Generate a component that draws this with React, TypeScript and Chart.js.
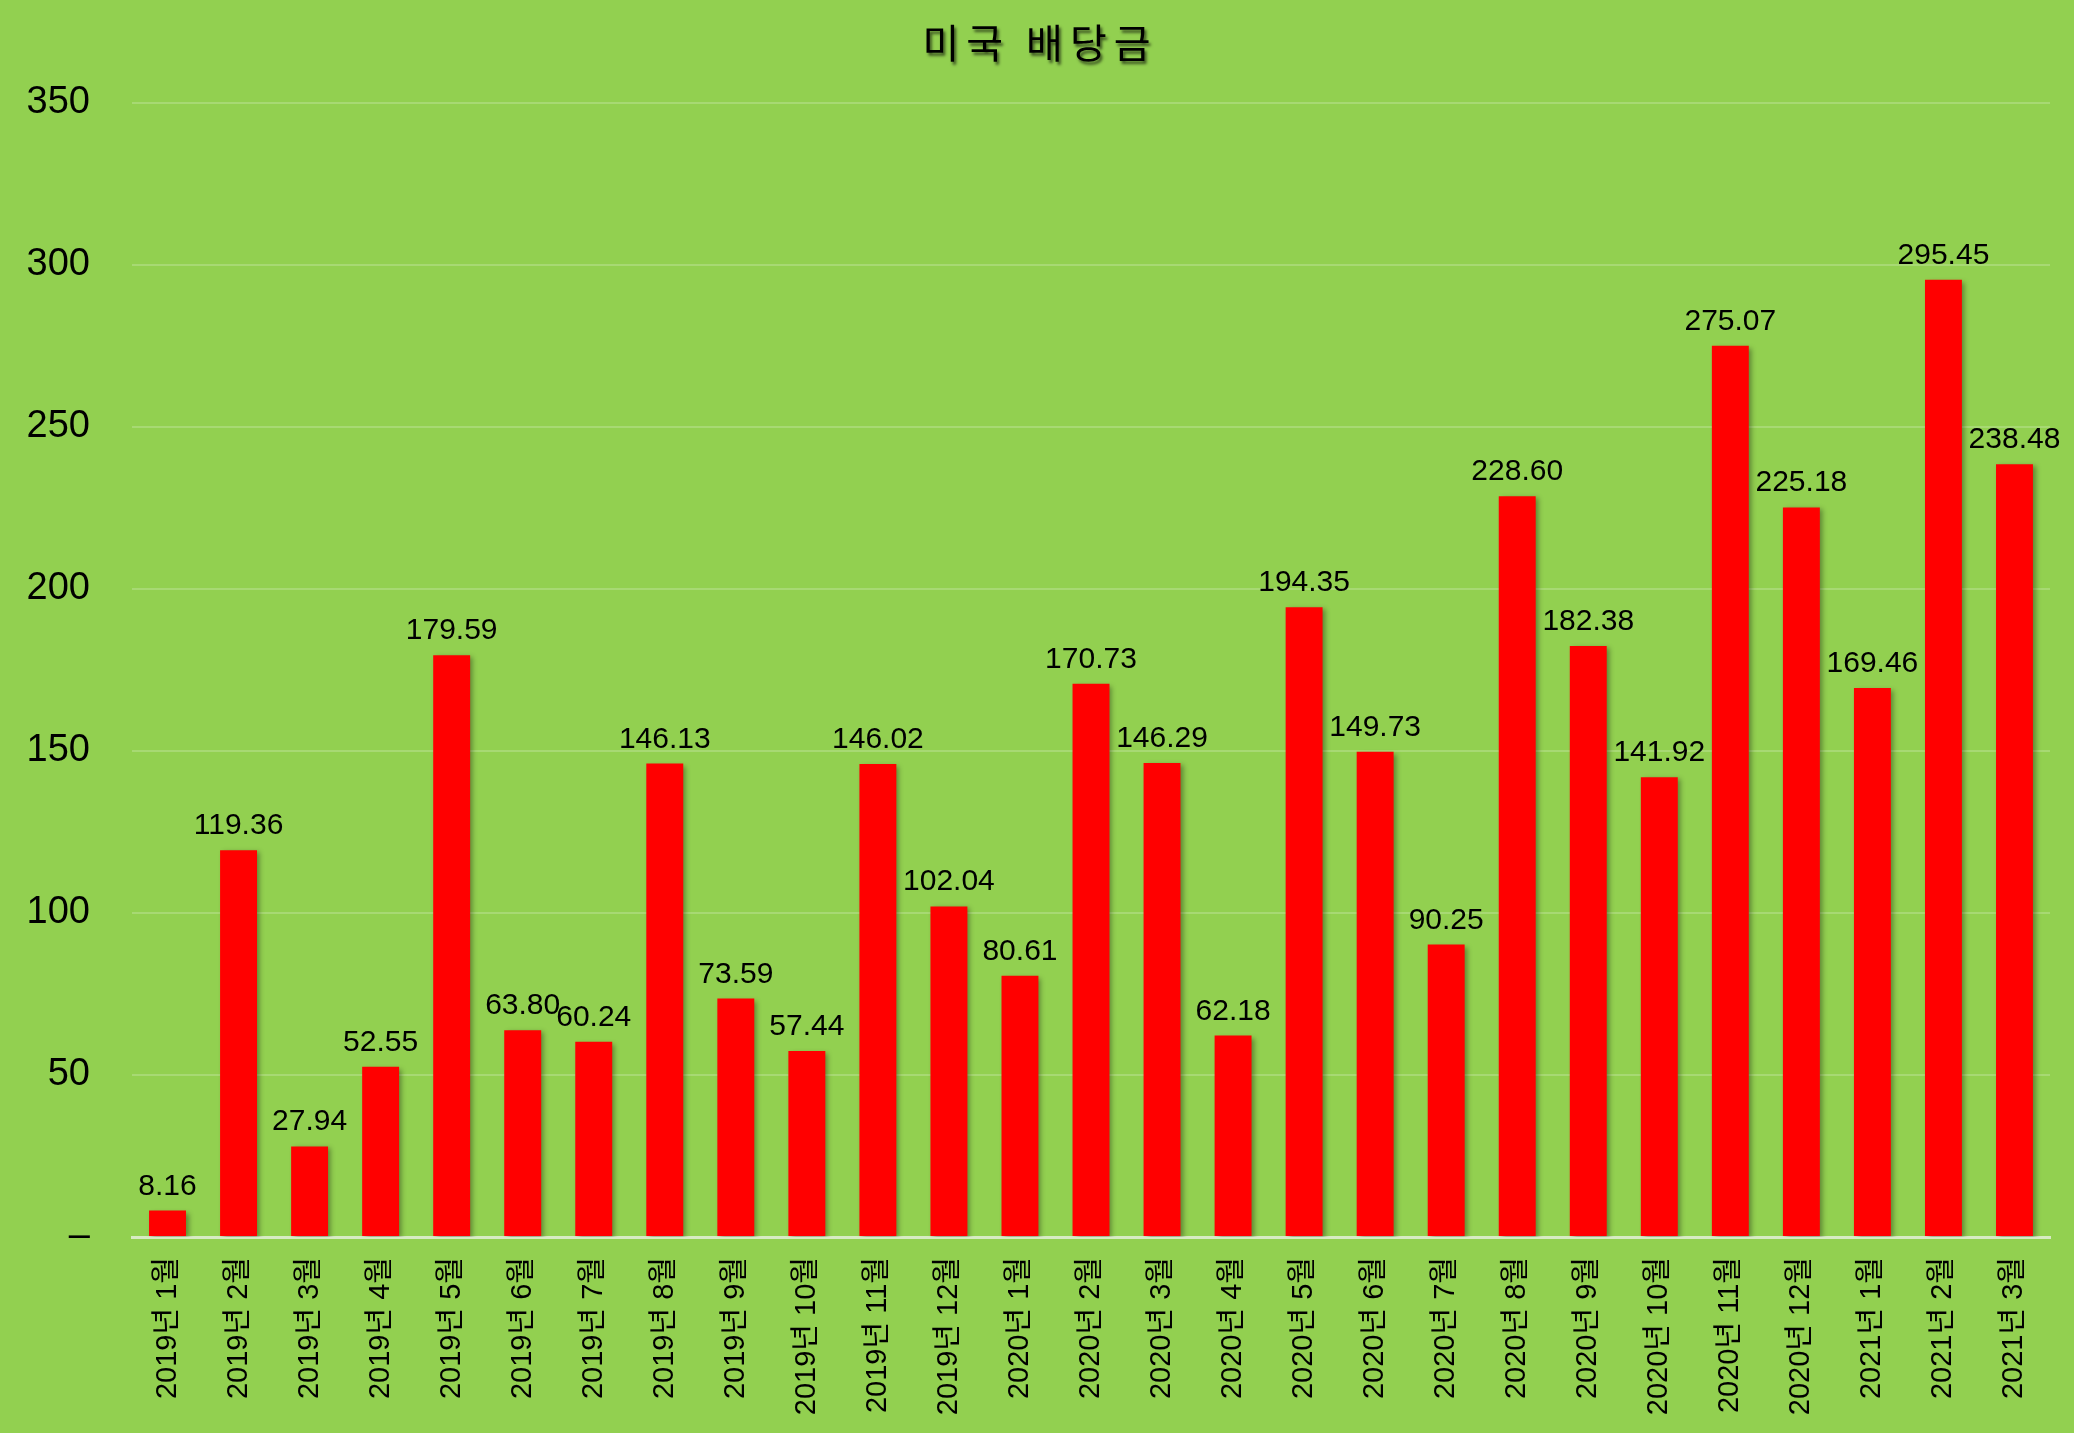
import React, { useEffect, useRef } from 'react';
import { Chart, registerables } from 'chart.js';

Chart.register(...registerables);

const TITLE = '미국 배당금';

const MONTHS = [
  '2019년 1월', '2019년 2월', '2019년 3월', '2019년 4월', '2019년 5월', '2019년 6월',
  '2019년 7월', '2019년 8월', '2019년 9월', '2019년 10월', '2019년 11월', '2019년 12월',
  '2020년 1월', '2020년 2월', '2020년 3월', '2020년 4월', '2020년 5월', '2020년 6월',
  '2020년 7월', '2020년 8월', '2020년 9월', '2020년 10월', '2020년 11월', '2020년 12월',
  '2021년 1월', '2021년 2월', '2021년 3월',
];

const DIVIDENDS = [
  8.16, 119.36, 27.94, 52.55, 179.59, 63.8,
  60.24, 146.13, 73.59, 57.44, 146.02, 102.04,
  80.61, 170.73, 146.29, 62.18, 194.35, 149.73,
  90.25, 228.6, 182.38, 141.92, 275.07, 225.18,
  169.46, 295.45, 238.48,
];

const Y_TICKS = [0, 50, 100, 150, 200, 250, 300, 350];

const FONT = "'Liberation Sans', 'Noto Sans CJK KR', sans-serif";
const BG = '#92D050';

// shadow under the bars + value labels on top
const barDecor = {
  id: 'barDecor',
  beforeDatasetsDraw(chart: any) {
    const ctx = chart.ctx;
    ctx.save();
    ctx.shadowColor = 'rgba(0,0,0,0.35)';
    ctx.shadowBlur = 5;
    ctx.shadowOffsetX = 3;
    ctx.shadowOffsetY = 2;
  },
  afterDatasetsDraw(chart: any) {
    const ctx = chart.ctx;
    ctx.restore();
    const meta = chart.getDatasetMeta(0);
    ctx.save();
    ctx.font = `30px ${FONT}`;
    ctx.fillStyle = '#000';
    ctx.textAlign = 'center';
    ctx.textBaseline = 'alphabetic';
    meta.data.forEach((bar: any, i: number) => {
      ctx.fillText(DIVIDENDS[i].toFixed(2), bar.x, bar.y - 16);
    });
    ctx.restore();
  },
};

const shadowTitle = {
  id: 'shadowTitle',
  afterDraw(chart: any) {
    const ctx = chart.ctx;
    ctx.save();
    ctx.font = `400 40px 'Noto Sans CJK KR', sans-serif`;
    ctx.letterSpacing = '7px';
    ctx.textAlign = 'center';
    ctx.textBaseline = 'middle';
    ctx.shadowColor = 'rgba(0,0,0,0.6)';
    ctx.shadowBlur = 3;
    ctx.shadowOffsetX = 2;
    ctx.shadowOffsetY = 3;
    ctx.fillStyle = '#000';
    ctx.fillText(TITLE, chart.width / 2 + 3, 43);
    ctx.restore();
  },
};

const DividendChart = () => {
  const canvasRef = useRef<HTMLCanvasElement>(null);

  useEffect(() => {
    const ctx = canvasRef.current?.getContext('2d');
    if (!ctx) return;

    const chart = new Chart(ctx, {
      type: 'bar',
      data: {
        labels: MONTHS,
        datasets: [
          {
            data: DIVIDENDS,
            backgroundColor: '#FF0000',
            borderWidth: 0,
            barPercentage: 0.52,
            categoryPercentage: 1,
          },
        ],
      },
      options: {
        responsive: true,
        maintainAspectRatio: false,
        devicePixelRatio: 1,
        animation: false,
        layout: { padding: { top: 103, right: 24, left: 0, bottom: 0 } },
        plugins: {
          legend: { display: false },
          title: { display: false },
          tooltip: { enabled: false },
        },
        scales: {
          x: {
            grid: { display: false, drawTicks: false },
            border: { display: true, color: '#d7ebc3', width: 3 },
            ticks: {
              color: '#000',
              font: { family: FONT, size: 29 },
              minRotation: 90,
              maxRotation: 90,
              padding: 20,
              autoSkip: false,
            },
            afterFit: (s: any) => { s.height = 196; },
          },
          y: {
            min: Y_TICKS[0],
            max: Y_TICKS[Y_TICKS.length - 1],
            ticks: {
              stepSize: 50,
              color: '#000',
              font: { family: FONT, size: 38 },
              padding: 42,
              callback: (v: any) => (v === 0 ? '–' : v),
            },
            grid: { color: 'rgba(255,255,255,0.2)', lineWidth: 2, drawTicks: false },
            border: { display: false },
            afterFit: (s: any) => { s.width = 132; },
          },
        },
      },
      plugins: [barDecor, shadowTitle],
    });

    return () => chart.destroy();
  }, []);

  return <canvas ref={canvasRef} />;
};

export default function App() {
  useEffect(() => {
    document.body.style.margin = '0';
    document.body.style.background = BG;
  }, []);

  return (
    <div style={{ width: 2074, height: 1433, background: BG, position: 'relative' }}>
      <DividendChart />
    </div>
  );
}
